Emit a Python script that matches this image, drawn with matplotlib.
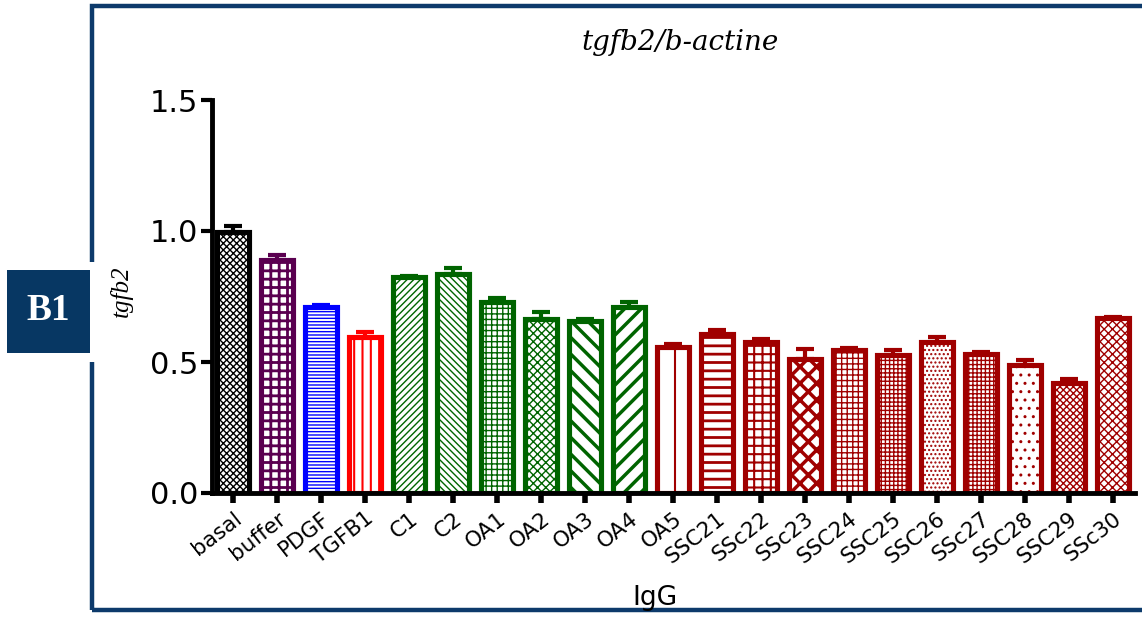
import matplotlib
matplotlib.use("Agg")
import matplotlib.pyplot as plt
from matplotlib.patches import Rectangle

categories = ["basal", "buffer", "PDGF", "TGFB1", "C1", "C2", "OA1", "OA2", "OA3", "OA4",
              "OA5", "SSC21", "SSc22", "SSc23", "SSC24", "SSC25", "SSC26", "SSc27", "SSC28",
              "SSC29", "SSc30"]
values = [0.995, 0.89, 0.71, 0.595, 0.825, 0.835, 0.73, 0.665, 0.655, 0.71,
          0.558, 0.605, 0.577, 0.51, 0.547, 0.525, 0.578, 0.53, 0.487, 0.42, 0.667]
errors = [0.025, 0.02, 0.008, 0.02, 0.005, 0.025, 0.015, 0.025, 0.008, 0.02,
          0.01, 0.017, 0.01, 0.04, 0.005, 0.02, 0.016, 0.01, 0.02, 0.015, 0.005]

BLACK, PURPLE, BLUE, RED, GREEN, DRED = "#000000", "#5a0050", "#0000ff", "#ff0000", "#006400", "#a00000"
colors = [BLACK, PURPLE, BLUE, RED] + [GREEN] * 6 + [DRED] * 11
hatches = ["xxxxx", "++", "-----", "||", "/////", "\\\\\\\\\\", "+++", "xxxx", "\\\\", "//",
           "|", "--", "++", "xx", "+++", "++++", "....", "++++", "..", "xxxxx", "xxxx"]
hatch_lw = [1.0, 2.0, 1.0, 1.5, 1.0, 1.0, 1.0, 1.0, 2.5, 2.5,
            1.5, 2.0, 1.5, 2.5, 1.0, 1.0, 1.0, 1.0, 1.0, 1.0, 1.0]

W, H = 1142, 618
fig = plt.figure(figsize=(W / 100, H / 100), dpi=100)

# outer frame
NAVY = "#0d3a6b"
fig.patches.append(Rectangle((92 / W, 8 / H), 1.2, (612 - 8) / H, transform=fig.transFigure,
                             fill=False, edgecolor=NAVY, linewidth=3.2, zorder=0))
fig.patches.append(Rectangle((0 / W, (618 - 362) / H), 100 / W, 100 / H, transform=fig.transFigure,
                             facecolor="white", edgecolor="none", zorder=1))
fig.patches.append(Rectangle((7 / W, (618 - 353) / H), 83 / W, 83 / H, transform=fig.transFigure,
                             facecolor="#073763", edgecolor="none", zorder=2))
fig.text(48.5 / W, (618 - 311) / H, "B1", color="white", fontsize=27, fontweight="bold",
         family="Liberation Serif", ha="center", va="center", zorder=3)

ax = fig.add_axes([212 / W, 1 - 493 / H, (1135 - 212) / W, (493 - 100) / H])
x = list(range(len(categories)))
for i in x:
    with plt.rc_context({"hatch.linewidth": hatch_lw[i]}):
        ax.bar(i, values[i], width=0.74, facecolor="white", edgecolor=colors[i],
               hatch=hatches[i], linewidth=3.7, zorder=2)
    ax.errorbar(i, values[i], yerr=[[0], [errors[i]]], color=colors[i], elinewidth=3,
                capsize=6.5, capthick=3, zorder=1)

ax.set_xlim(-0.48, 20.5)
ax.set_ylim(0, 1.5)
ax.set_yticks([0, 0.5, 1.0, 1.5])
ax.set_yticklabels(["0.0", "0.5", "1.0", "1.5"], fontsize=22, family="DejaVu Sans")
ax.set_xticks(x)
ax.set_xticklabels(categories, rotation=38, ha="right", rotation_mode="anchor",
                   fontsize=15.5, family="DejaVu Sans")
ax.tick_params(axis="y", width=3, length=8, pad=2)
ax.tick_params(axis="x", width=4, length=7, pad=4)
for s in ["top", "right"]:
    ax.spines[s].set_visible(False)
for s in ["left", "bottom"]:
    ax.spines[s].set_linewidth(3.5)
ax.spines["left"].set_bounds(0, 1.5)

fig.text(680 / W, 1 - 43 / H, "tgfb2/b-actine", fontsize=20, style="italic",
         family="DejaVu Serif", ha="center", va="center")
fig.text(121 / W, 1 - 291 / H, "tgfb2", fontsize=18, style="italic",
         family="Liberation Serif", ha="center", va="center", rotation=90)
fig.text(655 / W, 1 - 598 / H, "IgG", fontsize=19, family="DejaVu Sans",
         ha="center", va="center")

fig.savefig("out.png", dpi=100)
